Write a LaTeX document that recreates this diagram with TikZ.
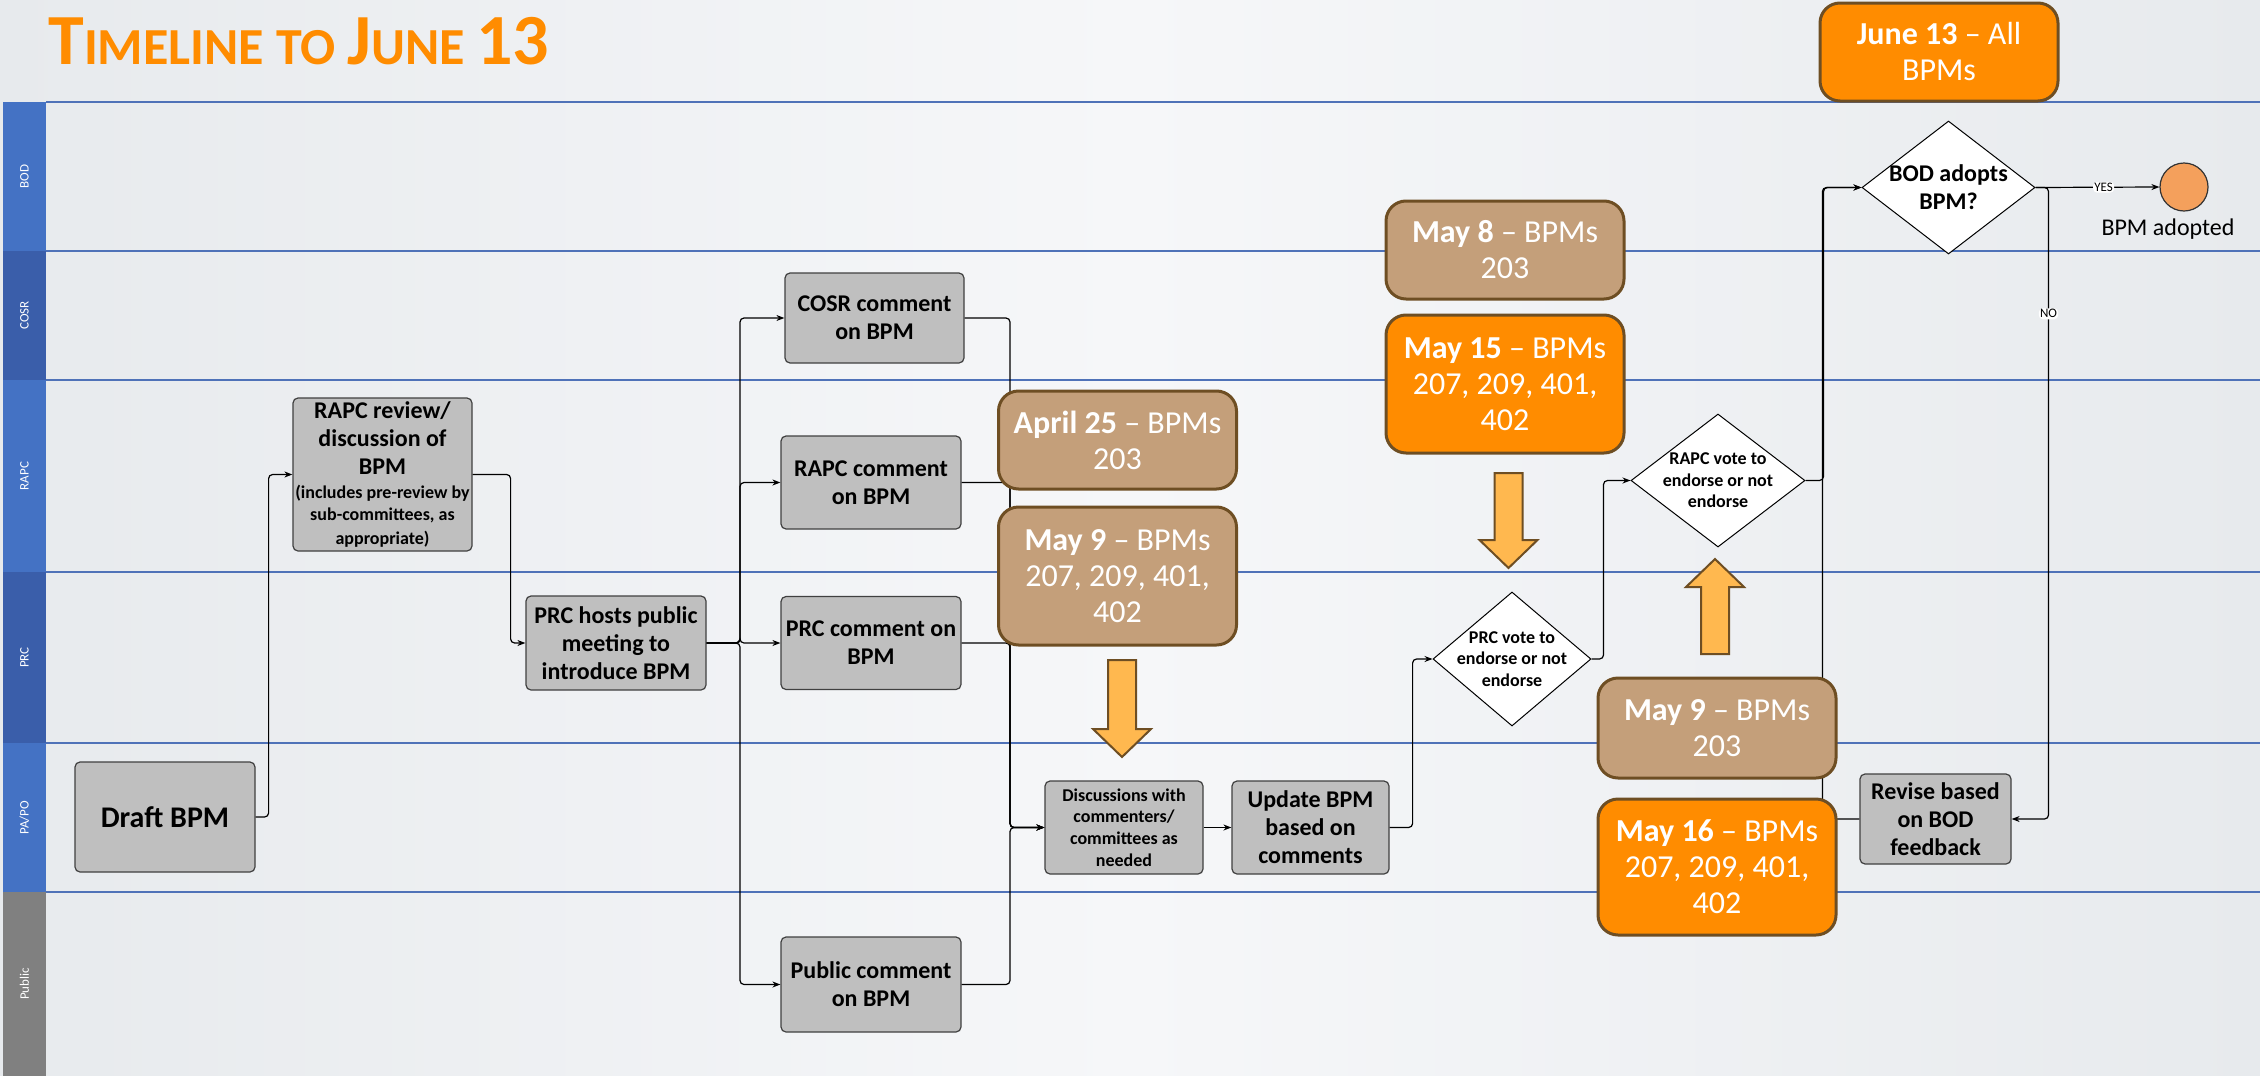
\documentclass[tikz,border=0pt]{standalone}
\usepackage{fontspec}
\setmainfont{Carlito}
\usetikzlibrary{shapes.geometric,arrows.meta}

\definecolor{bgside}{RGB}{231,234,237}
\definecolor{bgmid}{RGB}{246,247,249}
\definecolor{lanebl}{RGB}{68,114,196}
\definecolor{lanedk}{RGB}{58,94,170}
\definecolor{lanegr}{RGB}{128,128,128}
\definecolor{laneln}{RGB}{79,114,184}
\definecolor{boxgray}{RGB}{191,191,191}
\definecolor{boxedge}{RGB}{64,64,64}
\definecolor{tanfill}{RGB}{196,159,122}
\definecolor{datebrd}{RGB}{110,78,35}
\definecolor{orngfill}{RGB}{255,140,0}
\definecolor{arrfill}{RGB}{255,184,79}
\definecolor{titleor}{RGB}{255,140,0}
\definecolor{circfill}{RGB}{244,160,92}

\newcommand{\smalltxt}[1]{{\fontsize{9}{11}\selectfont #1}}

\tikzset{
  proc/.style={draw=boxedge,fill=boxgray,line width=0.6pt,rounded corners=2.5pt,align=center,inner sep=1pt,font=\bfseries\fontsize{12}{14}\selectfont},
  datebox/.style={draw=datebrd,line width=1.5pt,rounded corners=10pt,align=center,text=white,inner sep=1pt,minimum width=119pt,font=\fontsize{16}{18}\selectfont},
  decision/.style={diamond,draw,fill=white,line width=0.5pt,inner sep=0pt},
  votetxt/.style={align=center,font=\bfseries\fontsize{9}{10.7}\selectfont},
  flow/.style={-{Stealth[length=4pt,width=3pt]},line width=0.6pt,rounded corners=2pt},
  blockarr/.style={draw=datebrd,fill=arrfill,line width=1pt,line join=miter},
  tag/.style={fill=white,inner sep=0.6pt,font=\fontsize{6.5}{7}\selectfont},
  lanelbl/.style={rotate=90,text=white,inner sep=0pt,font=\fontsize{6.5}{7}\selectfont},
  laneline/.style={draw=laneln,line width=0.8pt}
}

\begin{document}
\begin{tikzpicture}[x=0.5pt,y=-0.5pt]
\useasboundingbox (0,0) rectangle (2260,1076);
% background
\shade[left color=bgside,right color=bgside,middle color=bgmid] (0,0) rectangle (2260,1076);
% the title
\node[anchor=base west,inner sep=0pt,text=titleor,font=\bfseries] (title) at (48,64)
  {\fontsize{36}{40}\selectfont T\fontsize{26}{30}\selectfont IMELINE TO \fontsize{36}{40}\selectfont J\fontsize{26}{30}\selectfont UNE \fontsize{36}{40}\selectfont 13};
% the swim lanes
\foreach \ytop/\ybot/\lname/\lcol/\lkey in {102/251/BOD/lanebl/bod,251/380/COSR/lanedk/cosr,380/572/RAPC/lanebl/rapc,572/743/PRC/lanedk/prc,743/892/{PA/PO}/lanebl/papo,892/1076/Public/lanegr/pub}
{
  \fill[\lcol] (3,\ytop) rectangle (46,\ybot);
  \node[lanelbl] (lane-\lkey) at (24.5,{(\ytop+\ybot)/2}) {\lname};
  \draw[laneline] (46,\ytop) -- (2260,\ytop);
}
% the process steps
\node[proc,minimum width=90pt,minimum height=55pt,font=\bfseries\fontsize{15}{18}\selectfont] (draft) at (165,817) {Draft BPM};
\node[proc,minimum width=89.5pt,minimum height=76.5pt] (rapcrev) at (382.5,474.5)
  {RAPC review/\\discussion of\\BPM\\[-2pt]\smalltxt{(includes pre-review by}\\[-3pt]\smalltxt{sub-committees, as}\\[-2pt]\smalltxt{appropriate)}};
\node[proc,minimum width=90pt,minimum height=47pt] (prchost) at (616,643) {PRC hosts public\\meeting to\\introduce BPM};
\node[proc,minimum width=89.5pt,minimum height=45pt] (cosrcom) at (874.5,318) {COSR comment\\on BPM};
\node[proc,minimum width=90pt,minimum height=46.5pt] (rapccom) at (871,482.5) {RAPC comment\\on BPM};
\node[proc,minimum width=90pt,minimum height=46.5pt] (prccom) at (871,643) {PRC comment on\\BPM};
\node[proc,minimum width=90pt,minimum height=47.5pt] (pubcom) at (871,984.5) {Public comment\\on BPM};
\node[proc,minimum width=79pt,minimum height=46.5pt,font=\bfseries\fontsize{9}{10.8}\selectfont] (discuss) at (1124,827.5) {Discussions with\\commenters/\\committees as\\needed};
\node[proc,minimum width=78.5pt,minimum height=46.5pt] (update) at (1310.5,827.5) {Update BPM\\based on\\comments};
\node[proc,minimum width=75.5pt,minimum height=45pt] (revise) at (1935.5,819) {Revise based\\on BOD\\feedback};
% the decisions
\node[decision,minimum width=79pt,minimum height=67pt,label={[votetxt]center:PRC vote to\\endorse or not\\endorse}] (prcvote) at (1512,659) {};
\node[decision,minimum width=87pt,minimum height=66.5pt,label={[votetxt]center:RAPC vote to\\endorse or not\\endorse}] (rapcvote) at (1718,480.5) {};
\node[decision,minimum width=86.5pt,minimum height=66.5pt,label={[votetxt,font=\bfseries\fontsize{12}{14}\selectfont]center:BOD adopts\\BPM?}] (bodadopt) at (1948.5,187.5) {};
\node[circle,draw=black!80,fill=circfill,line width=0.6pt,minimum size=24pt,inner sep=0pt,label={[font=\fontsize{12}{14}\selectfont,xshift=-8pt]below:BPM adopted}] (adopted) at (2184,187) {};
% the connectors
\coordinate (split) at (740,643);
\coordinate (merge) at (1010,827.5);
\draw[flow] (draft.east) -- ++(13,0) |- (rapcrev.west);
\draw[flow] (rapcrev.east) -- ++(38,0) |- (prchost.west);
\foreach \t in {cosrcom,rapccom,prccom,pubcom}
  \draw[flow] (prchost.east) -- (split) |- (\t.west);
\foreach \t in {cosrcom,rapccom,prccom,pubcom}
  \draw[flow] (\t.east) -| (merge) -- (discuss.west);
\draw[flow] (discuss) -- (update);
\draw[flow] (update.east) -- ++(23,0) |- (prcvote.west);
\draw[flow] (prcvote.east) -- ++(12,0) |- (rapcvote.west);
\draw[flow] (rapcvote.east) -- ++(18,0) |- (bodadopt.west);
\draw[flow] (bodadopt.east) -- node[tag,pos=0.55] {YES} (adopted.west);
\draw[flow] (bodadopt.east) -- ++(13,0) |- node[tag,pos=0.1] {NO} (revise.east);
\draw[flow] (revise.west) -- ++(-37,0) |- (bodadopt.west);
% the dates
\node[datebox,fill=tanfill,minimum height=49pt] (apr25) at (1117.5,440) {\textbf{April 25} – BPMs\\203};
\node[datebox,fill=tanfill,minimum height=69pt] (may9a) at (1117.5,576) {\textbf{May 9} – BPMs\\207, 209, 401,\\402};
\node[datebox,fill=tanfill,minimum height=49pt] (may8) at (1505,250) {\textbf{May 8} – BPMs\\203};
\node[datebox,fill=orngfill,minimum height=69pt] (may15) at (1505,384) {\textbf{May 15} – BPMs\\207, 209, 401,\\402};
\node[datebox,fill=tanfill,minimum height=50pt] (may9b) at (1717,728) {\textbf{May 9} – BPMs\\203};
\node[datebox,fill=orngfill,minimum height=68pt] (may16) at (1717,867) {\textbf{May 16} – BPMs\\207, 209, 401,\\402};
\node[datebox,fill=orngfill,minimum height=49pt] (june13) at (1939,52) {\textbf{June 13} – All\\BPMs};
% the big arrows
\foreach \cx/\ybase/\ytip/\d in {1122/660/757/1,1508.5/473/568/1,1715/654/559/-1}
  \draw[blockarr] ({\cx-14},\ybase) -- ({\cx+14},\ybase) -- ({\cx+14},{\ytip-28*\d}) -- ({\cx+29},{\ytip-28*\d})
    -- (\cx,\ytip) -- ({\cx-29},{\ytip-28*\d}) -- ({\cx-14},{\ytip-28*\d}) -- cycle;
\end{tikzpicture}
\end{document}
